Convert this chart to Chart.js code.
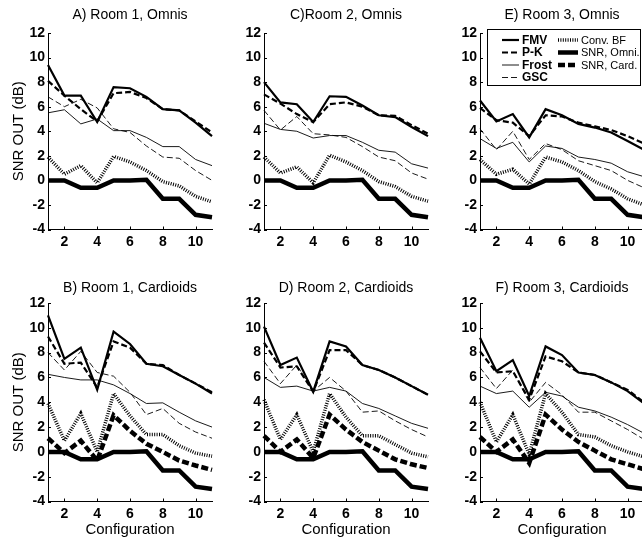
<!DOCTYPE html>
<html>
<head>
<meta charset="utf-8">
<script src="https://cdn.jsdelivr.net/npm/chart.js@4"></script>
<style>
  html, body { margin: 0; padding: 0; background: #fff; overflow: hidden; }
  body { width: 642px; height: 540px; position: relative; }
  .panel { position: absolute; }
</style>
</head>
<body>
<div id="app"></div>
<script>
// ==================== SNR OUT vs configuration ====================
const FONT = '"Liberation Sans", Arial, Helvetica, sans-serif';

const configs = [1, 2, 3, 4, 5, 6, 7, 8, 9, 10, 11];
const xTicks = [2, 4, 6, 8, 10];
const yTicks = [-4, -2, 0, 2, 4, 6, 8, 10, 12];

// input SNR, same for every room
const snrOmni = [0, 0, -0.6, -0.6, 0, 0, 0.05, -1.5, -1.5, -2.8, -3.0];

// Room 1, omnis
const fmvA   = [9.4, 6.9, 6.9, 4.75, 7.6, 7.5, 6.8, 5.8, 5.7, 4.7, 3.6];
const pkA    = [8.1, 6.9, 5.8, 4.8, 7.1, 7.2, 6.7, 5.8, 5.7, 4.8, 3.9];
const frostA = [5.5, 5.75, 4.6, 5.0, 4.05, 4.05, 3.5, 2.75, 2.75, 1.7, 1.2];
const gscA   = [6.8, 6.0, 6.6, 5.9, 4.2, 3.9, 2.8, 1.9, 1.8, 0.8, 0.0];
const convA  = [1.9, 0.5, 1.2, -0.2, 1.95, 1.5, 0.8, -0.1, -0.45, -1.3, -1.75];

// Room 1, cardioids
const fmvB   = [11.0, 7.5, 8.4, 5.0, 9.7, 8.7, 7.1, 6.9, 6.2, 5.5, 4.7];
const pkB    = [9.3, 7.1, 7.2, 5.2, 8.9, 8.4, 7.1, 7.0, 6.2, 5.5, 4.8];
const frostB = [6.25, 6.0, 5.8, 5.8, 5.4, 4.7, 3.9, 3.95, 3.2, 2.5, 2.0];
const gscB   = [8.0, 6.6, 8.1, 6.4, 6.1, 4.8, 3.0, 3.5, 2.3, 1.6, 1.1];
const convB  = [3.9, 0.9, 3.1, 0.0, 4.7, 2.9, 1.4, 1.4, 0.5, -0.1, -0.35];
const cardB  = [1.1, -0.1, 0.9, -0.7, 2.95, 1.7, 0.65, 0.0, -0.7, -1.1, -1.45];

// Room 2, omnis
const fmvC   = [8.0, 6.35, 6.2, 4.75, 6.85, 6.8, 6.1, 5.3, 5.15, 4.35, 3.6];
const pkC    = [7.0, 6.25, 5.4, 4.75, 6.2, 6.35, 6.0, 5.3, 5.25, 4.5, 3.8];
const frostC = [4.65, 4.15, 4.0, 3.45, 3.65, 3.65, 3.1, 2.45, 2.3, 1.35, 1.0];
const gscC   = [5.7, 4.1, 5.2, 3.8, 3.7, 3.5, 2.75, 1.9, 1.6, 0.6, 0.1];
const convC  = [1.9, 0.6, 1.1, -0.2, 2.05, 1.5, 0.8, -0.1, -0.5, -1.3, -1.7];

// Room 2, cardioids
const fmvD   = [10.1, 7.0, 7.6, 4.85, 8.9, 8.5, 7.0, 6.6, 6.0, 5.3, 4.6];
const pkD    = [8.8, 6.8, 6.9, 4.85, 8.2, 8.2, 7.0, 6.6, 6.0, 5.3, 4.6];
const frostD = [6.0, 5.2, 5.3, 4.9, 5.2, 4.9, 3.9, 3.5, 2.9, 2.3, 1.9];
const gscD   = [7.3, 5.5, 7.0, 4.9, 6.0, 4.9, 3.2, 3.3, 2.5, 1.8, 1.2];
const convD  = [4.2, 1.0, 3.0, 0.0, 4.7, 2.8, 1.3, 1.3, 0.6, -0.1, -0.4];
const cardD  = [1.3, 0.0, 1.0, -0.5, 3.0, 1.8, 0.8, 0.1, -0.6, -1.0, -1.3];

// Room 3, omnis
const fmvE   = [6.5, 4.8, 5.4, 3.5, 5.8, 5.3, 4.6, 4.3, 3.9, 3.2, 2.5];
const pkE    = [5.9, 4.9, 4.7, 3.6, 5.3, 5.2, 4.7, 4.4, 4.1, 3.6, 3.0];
const frostE = [3.4, 2.6, 3.1, 1.5, 2.8, 2.6, 1.9, 1.7, 1.4, 0.7, 0.3];
const gscE   = [4.2, 2.5, 4.0, 1.7, 3.0, 2.5, 1.6, 1.2, 0.8, 0.0, -0.6];
const convE  = [1.7, 0.5, 0.9, -0.3, 1.9, 1.5, 0.8, -0.1, -0.7, -1.5, -2.0];

// Room 3, cardioids
const fmvF   = [9.2, 6.5, 7.4, 4.5, 8.5, 7.8, 6.4, 6.2, 5.6, 4.9, 3.9];
const pkF    = [8.1, 6.4, 6.5, 4.2, 7.7, 7.3, 6.4, 6.2, 5.6, 5.0, 4.0];
const frostF = [5.3, 4.7, 4.9, 3.6, 4.8, 4.5, 3.6, 3.3, 2.8, 2.2, 1.5];
const gscF   = [6.8, 5.1, 6.6, 4.0, 5.6, 4.6, 3.2, 3.2, 2.5, 1.8, 1.0];
const convF  = [4.0, 0.8, 3.0, -0.2, 4.7, 3.2, 1.4, 1.2, 0.5, 0.0, -0.4];
const cardF  = [1.2, 0.0, 1.0, -0.9, 3.0, 1.8, 0.8, 0.1, -0.6, -1.0, -1.4];

// line styles (all black)
const STYLE = {
  fmv:   { label: 'FMV',        width: 2.2, dash: [] },
  pk:    { label: 'P-K',        width: 2.2, dash: [6, 3] },
  frost: { label: 'Frost',      width: 0.9, dash: [] },
  gsc:   { label: 'GSC',        width: 0.9, dash: [6, 3] },
  conv:  { label: 'Conv. BF',   width: 3.5, dash: [1, 1.4] },
  omni:  { label: 'SNR, Omni.', width: 4.5, dash: [] },
  card:  { label: 'SNR, Card.', width: 4.5, dash: [7, 3] },
};

const panels = [
  { title: 'A) Room 1, Omnis',     left: 0,   top: 0,   yTitle: true,  legend: false,
    series: { fmv: fmvA, pk: pkA, frost: frostA, gsc: gscA, conv: convA, omni: snrOmni } },
  { title: 'B) Room 1, Cardioids', left: 0,   top: 265, yTitle: true,  legend: false,
    series: { fmv: fmvB, pk: pkB, frost: frostB, gsc: gscB, conv: convB, omni: snrOmni, card: cardB } },
  { title: 'C)Room 2, Omnis',      left: 216, top: 0,   yTitle: false, legend: false,
    series: { fmv: fmvC, pk: pkC, frost: frostC, gsc: gscC, conv: convC, omni: snrOmni } },
  { title: 'D) Room 2, Cardioids', left: 216, top: 265, yTitle: false, legend: false,
    series: { fmv: fmvD, pk: pkD, frost: frostD, gsc: gscD, conv: convD, omni: snrOmni, card: cardD } },
  { title: 'E) Room 3, Omnis',     left: 432, top: 0,   yTitle: false, legend: true,
    series: { fmv: fmvE, pk: pkE, frost: frostE, gsc: gscE, conv: convE, omni: snrOmni } },
  { title: 'F) Room 3, Cardioids', left: 432, top: 265, yTitle: false, legend: false,
    series: { fmv: fmvF, pk: pkF, frost: frostF, gsc: gscF, conv: convF, omni: snrOmni, card: cardF } },
];

const CANVAS_W = 224;
const AXIS_W = 48;         // y-axis box width
const PLOT_W = 164;        // x = 1..11

// inward tick marks + panel title, matlab look
const matlabAxes = {
  id: 'matlabAxes',
  afterDraw(chart, args, opts) {
    const { ctx, chartArea: a, scales: { x, y } } = chart;
    ctx.save();
    ctx.strokeStyle = '#000';
    ctx.lineWidth = 1;
    ctx.setLineDash([]);
    ctx.beginPath();
    xTicks.forEach(v => {
      const px = Math.round(x.getPixelForValue(v)) + 0.5;
      ctx.moveTo(px, a.bottom); ctx.lineTo(px, a.bottom - 3);
    });
    yTicks.forEach(v => {
      const py = Math.round(y.getPixelForValue(v)) + 0.5;
      ctx.moveTo(a.left, py); ctx.lineTo(a.left + 3, py);
    });
    ctx.stroke();
    ctx.fillStyle = '#000';
    ctx.font = '14px ' + FONT;
    ctx.textAlign = 'center';
    ctx.textBaseline = 'middle';
    ctx.fillText(opts.title, (a.left + a.right) / 2, opts.titleY);
    ctx.restore();
  }
};

// boxed legend, two columns
const boxLegend = {
  id: 'boxLegend',
  afterDraw(chart, args, opts) {
    if (!opts.show) return;
    const ctx = chart.ctx;
    const bx = 55, by = 29, bw = 153, bh = 56;
    ctx.save();
    ctx.fillStyle = '#fff';
    ctx.fillRect(bx, by, bw, bh);
    ctx.strokeStyle = '#000';
    ctx.lineWidth = 1;
    ctx.setLineDash([]);
    ctx.strokeRect(bx + 0.5, by + 0.5, bw, bh);
    const rows = [40, 52.5, 65, 77.5];
    const cols = [
      { keys: ['fmv', 'pk', 'frost', 'gsc'], x0: 70, x1: 87, tx: 90, font: 'bold 12px ' + FONT },
      { keys: ['conv', 'omni', 'card'],      x0: 126, x1: 146, tx: 149, font: '11px ' + FONT },
    ];
    cols.forEach(c => {
      c.keys.forEach((k, i) => {
        const s = STYLE[k];
        ctx.beginPath();
        ctx.lineWidth = s.width;
        ctx.setLineDash(s.dash);
        ctx.moveTo(c.x0, rows[i]); ctx.lineTo(c.x1, rows[i]);
        ctx.stroke();
        ctx.setLineDash([]);
        ctx.fillStyle = '#000';
        ctx.font = c.font;
        ctx.textAlign = 'left';
        ctx.textBaseline = 'middle';
        ctx.fillText(s.label, c.tx, rows[i] + 0.5);
      });
    });
    ctx.restore();
  }
};

function buildPanel(p) {
  const isBottom = p.top > 0;
  const height = isBottom ? 275 : 256;
  const xAxisH = isBottom ? 38.5 : 26.5;
  const plotTop = isBottom ? 38 : 33;

  const cv = document.createElement('canvas');
  cv.className = 'panel';
  cv.style.left = p.left + 'px';
  cv.style.top = p.top + 'px';
  cv.style.width = CANVAS_W + 'px';
  cv.style.height = height + 'px';
  cv.width = CANVAS_W;
  cv.height = height;
  document.getElementById('app').appendChild(cv);

  const datasets = Object.keys(p.series).map(k => ({
    label: STYLE[k].label,
    data: p.series[k],
    borderColor: '#000',
    borderWidth: STYLE[k].width,
    borderDash: STYLE[k].dash,
    borderCapStyle: 'butt',
    borderJoinStyle: 'miter',
    pointRadius: 0,
    tension: 0,
    fill: false,
    clip: false,
  }));

  const tickFont = { family: FONT, size: 14, weight: 'bold' };

  new Chart(cv.getContext('2d'), {
    type: 'line',
    data: { labels: configs, datasets },
    options: {
      responsive: false,
      animation: false,
      events: [],
      layout: { padding: { top: plotTop, right: CANVAS_W - AXIS_W - PLOT_W, left: 0, bottom: 0 } },
      plugins: {
        legend: { display: false },
        tooltip: { enabled: false },
        matlabAxes: { title: p.title, titleY: isBottom ? 23 : 15 },
        boxLegend: { show: p.legend },
      },
      scales: {
        x: {
          type: 'linear',
          min: 1, max: 11,
          afterBuildTicks: s => { s.ticks = xTicks.map(v => ({ value: v })); },
          afterFit: s => { s.height = xAxisH; },
          grid: { display: true, drawOnChartArea: false, drawTicks: false },
          border: { display: true, color: '#000', width: 1 },
          ticks: { font: tickFont, color: '#000', padding: 4, autoSkip: false, maxRotation: 0 },
          title: {
            display: isBottom, text: 'Configuration', color: '#000',
            font: { family: FONT, size: 15 }, padding: { top: 0, bottom: 1 },
          },
        },
        y: {
          min: -4, max: 12,
          afterBuildTicks: s => { s.ticks = yTicks.map(v => ({ value: v })); },
          afterFit: s => { s.width = AXIS_W; },
          grid: { display: true, drawOnChartArea: false, drawTicks: false },
          border: { display: true, color: '#000', width: 1 },
          ticks: { font: tickFont, color: '#000', padding: 3, autoSkip: false },
          title: {
            display: p.yTitle, text: 'SNR OUT (dB)', color: '#000',
            font: { family: FONT, size: 15 }, padding: { top: 10, bottom: 0 },
          },
        },
      },
    },
    plugins: [matlabAxes, boxLegend],
  });
}

panels.forEach(buildPanel);
</script>
</body>
</html>
